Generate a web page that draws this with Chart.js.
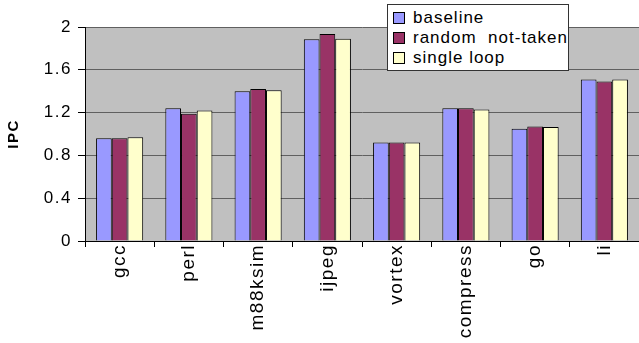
<!DOCTYPE html>
<html>
<head>
<meta charset="utf-8">
<script src="https://cdn.jsdelivr.net/npm/chart.js@4/dist/chart.umd.min.js"></script>
<style>
  html, body { margin: 0; padding: 0; background: #fff; }
  #wrap { position: relative; width: 639px; height: 343px; }
  #legend {
    position: absolute; left: 387px; top: 4px; width: 182px; height: 67px;
    background: #fff; border: 1px solid #333; box-sizing: border-box;
    font-family: "Liberation Sans", Arial, sans-serif; font-size: 17px;
    letter-spacing: 1px; color: #000; padding: 3px 0 0 5px;
  }
  #legend div { height: 20px; line-height: 20px; white-space: pre; }
  #legend span.box {
    display: inline-block; width: 10px; height: 10px; border: 1px solid #000;
    margin-right: 8px; vertical-align: -1px;
  }
</style>
</head>
<body>
<div id="wrap">
  <canvas id="grafico" width="639" height="343"></canvas>
  <div id="legend"></div>
</div>
<script>
// dados
const categorias = ['gcc', 'perl', 'm88ksim', 'ijpeg', 'vortex', 'compress', 'go', 'li'];
const baseline = [0.96, 1.24, 1.40, 1.885, 0.92, 1.24, 1.05, 1.51];
const randomNotTaken = [0.96, 1.19, 1.42, 1.935, 0.92, 1.24, 1.07, 1.49];
const singleLoop = [0.97, 1.22, 1.41, 1.89, 0.92, 1.23, 1.065, 1.51];
const nomesSeries = ['baseline', 'random  not-taken', 'single loop'];
const coresSeries = ['#9999ff', '#993366', '#ffffcc'];

// fundo cinza da área do gráfico + espaçamento do texto (fonte do Excel é mais larga)
const fundoPlot = {
    id: 'fundoPlot',
    beforeUpdate(chart) { chart.ctx.letterSpacing = '1.5px'; },
    beforeDraw(chart) {
        const { ctx, chartArea: a } = chart;
        ctx.letterSpacing = '1.5px';
        ctx.save();
        ctx.fillStyle = '#c0c0c0';
        ctx.fillRect(a.left, a.top, a.right - a.left, a.bottom - a.top);
        ctx.restore();
    }
};

const series = [baseline, randomNotTaken, singleLoop];

new Chart(document.getElementById('grafico').getContext('2d'), {
    type: 'bar',
    data: {
        labels: categorias,
        datasets: series.map((d, i) => ({
            label: nomesSeries[i],
            data: d,
            backgroundColor: coresSeries[i],
            borderColor: '#000',
            borderWidth: 1,
            borderSkipped: 'bottom',
            categoryPercentage: 0.68,
            barPercentage: 1.0
        }))
    },
    options: {
        responsive: false,
        animation: false,
        layout: { padding: { top: 27, right: 0, left: 0, bottom: 0 } },
        plugins: { legend: { display: false }, tooltip: { enabled: false } },
        scales: {
            x: {
                afterFit: s => { s.height = 102; },
                grid: { drawOnChartArea: false, drawTicks: true, tickLength: 6, color: '#000', offset: true },
                border: { color: '#000', width: 1 },
                ticks: {
                    minRotation: 90, maxRotation: 90, padding: -3, color: '#000',
                    font: { family: '"Liberation Sans", Arial, sans-serif', size: 19 }
                }
            },
            y: {
                min: 0, max: 2,
                afterFit: s => { s.width = 85; },
                grid: { color: '#606060', tickColor: '#000', tickLength: 7 },
                border: { color: '#000', width: 1 },
                ticks: {
                    stepSize: 0.4, padding: 6, color: '#000',
                    callback: v => String(Math.round(v * 10) / 10),
                    font: { family: '"Liberation Sans", Arial, sans-serif', size: 17 }
                },
                title: {
                    display: true, text: 'IPC', color: '#000', padding: { top: 5, bottom: 0 },
                    font: { family: '"Liberation Sans", Arial, sans-serif', size: 15, weight: 'bold' }
                }
            }
        }
    },
    plugins: [fundoPlot]
});

// legenda em HTML sobre o gráfico
const leg = document.getElementById('legend');
nomesSeries.forEach((nome, i) => {
    const div = document.createElement('div');
    div.innerHTML = `<span class="box" style="background:${coresSeries[i]}"></span>${nome}`;
    leg.appendChild(div);
});
</script>
</body>
</html>
